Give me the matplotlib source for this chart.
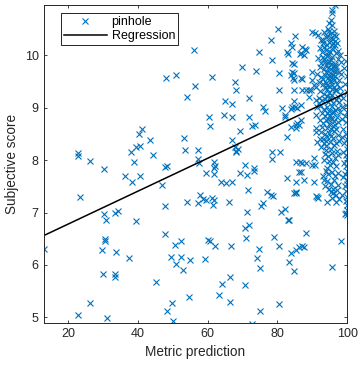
import matplotlib
matplotlib.use("Agg")
import matplotlib.pyplot as plt

plt.rcParams['font.family'] = ['Liberation Sans', 'DejaVu Sans']

# scatter points: metric prediction vs subjective score
pts_left = [
    (13.0, 6.31), (22.9, 8.13), (22.9, 8.07), (26.2, 7.98), (30.3, 7.84), (37.9, 8.15),
    (38.9, 7.96), (39.5, 8.25), (40.5, 8.27), (40.2, 8.50), (41.1, 8.59), (43.5, 8.39),
    (44.3, 8.10), (48.1, 9.56), (51.0, 9.62), (47.9, 7.86), (48.2, 7.89),
    (23.3, 7.30), (30.3, 6.97), (31.0, 6.86), (33.3, 6.99), (34.3, 7.03), (36.3, 7.69),
    (38.3, 7.58), (40.5, 7.70), (39.5, 6.84), (47.0, 7.53), (47.9, 7.12),
    (30.6, 6.50), (30.7, 6.46), (29.7, 6.29), (33.6, 6.25), (37.4, 6.13), (47.7, 6.59),
    (49.4, 6.16), (30.0, 5.83), (33.4, 5.83), (33.5, 5.78), (45.3, 5.68), (26.2, 5.28),
    (22.9, 5.05), (31.1, 4.99), (48.3, 5.13), (49.7, 5.28), (50.2, 4.93), (50.5, 6.39),
    (51.0, 6.02),
]
pts_mid = [
    (56.2, 10.11), (61.1, 9.59), (56.4, 9.42), (54.0, 9.21), (67.9, 9.50), (68.1, 9.34),
    (69.8, 9.78), (71.7, 9.19), (73.8, 9.70), (74.8, 10.07), (78.1, 10.29), (78.3, 9.92),
    (80.2, 10.51), (80.3, 9.67), (80.3, 9.34), (75.9, 9.02), (76.5, 8.94), (81.4, 8.99),
    (82.1, 8.83), (65.0, 9.13), (66.9, 9.07), (64.6, 8.86), (67.1, 8.82), (60.3, 8.82),
    (60.8, 8.65), (71.7, 8.82), (72.7, 8.65), (73.6, 8.67), (69.3, 8.56), (67.1, 8.39),
    (53.3, 8.43), (53.6, 8.20), (57.3, 8.20), (67.9, 8.26), (68.2, 8.18), (68.6, 8.21),
    (68.0, 8.15), (78.3, 8.16), (80.7, 8.16), (78.3, 8.02), (57.1, 8.02), (57.4, 7.94),
    (61.9, 7.96), (62.0, 7.88), (61.9, 7.85), (70.8, 7.90), (73.3, 7.85),
    (59.4, 7.75), (61.9, 7.74), (63.8, 7.59), (67.0, 7.59), (65.3, 7.57), (69.3, 7.75),
    (71.4, 7.72), (73.3, 7.80), (82.7, 8.44), (86.8, 7.77), (86.4, 7.96), (88.1, 7.94),
    (82.6, 7.66), (85.3, 7.59), (87.6, 7.62), (90.5, 7.59), (92.9, 7.69), (90.8, 7.90),
    (85.0, 10.37), (84.1, 10.16), (87.8, 10.13), (82.6, 10.07), (83.1, 10.02), (84.6, 9.83),
    (86.5, 10.02), (84.6, 9.66), (84.6, 9.53), (86.7, 9.57), (86.9, 9.55), (84.6, 9.34),
    (86.9, 9.34), (88.9, 9.34), (84.6, 9.12), (84.3, 9.02), (85.0, 9.02), (85.6, 8.99),
    (86.7, 9.05), (82.2, 8.86), (86.8, 8.77), (86.3, 8.67), (85.2, 8.62),
    (91.0, 8.86), (91.0, 8.62), (91.0, 8.54), (91.2, 8.35), (92.4, 8.26), (93.3, 8.32),
    (93.8, 8.20), (92.9, 8.40), (94.3, 8.44),
]
pts_low = [
    (54.0, 7.20), (57.1, 7.18), (57.8, 7.34), (58.6, 7.26), (59.5, 7.24), (61.4, 7.15),
    (61.7, 7.24), (61.2, 7.28), (66.0, 7.20), (71.6, 7.43), (71.4, 7.01), (70.8, 6.70),
    (71.9, 6.77), (71.1, 6.51), (75.3, 7.12), (75.9, 7.18), (77.0, 7.40), (78.1, 7.34),
    (78.8, 7.32), (81.0, 7.02), (82.1, 7.07), (83.1, 6.86), (79.0, 6.53), (80.3, 6.37),
    (74.6, 6.30), (74.0, 6.13), (75.0, 5.94), (60.0, 6.48), (60.7, 6.45), (62.2, 6.37),
    (66.7, 6.37), (59.1, 6.11), (52.4, 6.45), (52.4, 6.16), (54.8, 6.10), (52.9, 5.91),
    (66.5, 5.77), (64.0, 5.64), (70.8, 5.61), (54.6, 5.38), (63.1, 5.42), (66.4, 5.30),
    (72.6, 4.88), (80.3, 5.26), (75.0, 5.12), (84.8, 7.38), (85.3, 7.39),
    (83.4, 6.86), (88.3, 6.61), (83.8, 6.23), (85.2, 6.29), (86.2, 6.35), (87.1, 6.37),
    (87.6, 6.34), (98.1, 6.45), (95.5, 5.96), (83.3, 6.06), (84.6, 5.89), (99.5, 7.00),
    (100.0, 6.95), (99.8, 7.04), (99.3, 6.97),
    (91.3, 7.29), (91.7, 7.28), (94.3, 7.21), (95.3, 7.40), (96.0, 7.45), (96.7, 7.34),
    (96.7, 7.21), (98.6, 7.34), (99.3, 7.50),
    (85.2, 7.96), (87.1, 7.94), (86.2, 7.78), (93.3, 7.62), (85.2, 7.37), (90.9, 7.31),
    (90.5, 8.04), (90.0, 7.90), (83.8, 8.64), (85.2, 8.67), (85.6, 8.70),
]
pts_right = [
    (89.8, 9.69), (90.0, 9.53), (90.5, 9.43), (89.1, 9.21), (91.0, 9.15), (91.9, 9.09),
    (91.4, 9.02), (83.8, 10.23), (90.0, 10.45), (90.8, 10.42), (91.7, 10.39), (92.4, 10.30),
    (92.9, 10.24), (93.8, 10.35), (93.3, 10.16), (87.1, 10.16), (86.7, 10.04), (87.6, 10.01),
    (88.1, 10.10), (96.4, 10.96), (95.7, 10.86), (95.5, 10.80), (95.2, 10.67), (94.7, 10.62),
    (95.5, 10.58), (94.6, 10.51), (84.1, 9.85), (84.2, 9.69), (83.9, 9.62), (84.4, 9.57),
    (88.1, 9.34), (89.5, 9.34), (83.8, 8.97),
]
pts_dense = [
    # upper band
    (93.4, 10.44), (94.3, 10.37), (95.1, 10.41), (96.0, 10.31), (94.7, 10.26), (95.5, 10.20),
    (96.5, 10.19), (93.8, 10.11), (95.1, 10.06), (96.8, 10.04), (94.4, 10.01), (97.1, 10.24),
    (96.2, 10.47), (92.7, 10.06), (93.0, 10.30), (95.8, 10.13), (97.4, 10.09), (94.1, 10.19),
    (96.3, 10.38), (95.3, 10.33), (96.9, 10.36), (92.3, 10.14), (97.8, 10.00), (96.6, 10.27),
    (94.8, 10.09), (95.9, 10.24), (94.9, 10.47),
    # core, mostly x 93-97.5
    (91.7, 9.94), (92.6, 9.86), (93.4, 9.93), (94.2, 9.98), (94.8, 9.89), (95.7, 9.96),
    (96.4, 9.84), (97.2, 9.93), (98.1, 9.87), (92.2, 9.77), (93.3, 9.73), (93.9, 9.81),
    (94.6, 9.76), (95.2, 9.84), (96.1, 9.71), (96.9, 9.77), (97.7, 9.69), (91.4, 9.64),
    (92.5, 9.59), (93.6, 9.62), (94.4, 9.57), (95.0, 9.67), (95.8, 9.56), (96.6, 9.60),
    (97.5, 9.53), (98.2, 9.65), (92.0, 9.49), (92.9, 9.46), (93.8, 9.47), (94.7, 9.41),
    (95.3, 9.51), (96.2, 9.39), (97.1, 9.46), (97.9, 9.37), (91.1, 9.39), (92.3, 9.32),
    (93.2, 9.27), (94.1, 9.36), (94.9, 9.29), (95.6, 9.24), (96.4, 9.33), (97.3, 9.21),
    (98.0, 9.27), (91.8, 9.19), (92.7, 9.14), (93.7, 9.17), (94.5, 9.11), (95.1, 9.17),
    (95.9, 9.09), (96.8, 9.15), (97.6, 9.11), (94.0, 9.69), (95.5, 9.44), (93.1, 9.54),
    (96.4, 9.79), (94.9, 9.53), (92.9, 9.97), (95.4, 9.73), (96.9, 9.34), (93.7, 9.87),
    (94.3, 9.23), (96.0, 9.63), (95.2, 9.92), (94.6, 9.85), (95.8, 9.79), (96.2, 9.52),
    (94.9, 9.61), (95.6, 9.35), (94.2, 9.44), (96.7, 9.70), (93.5, 9.38), (95.0, 9.20),
    # below the line
    (92.3, 9.04), (93.2, 8.97), (94.1, 9.01), (94.8, 8.94), (95.7, 9.03), (96.5, 8.96),
    (97.4, 9.00), (92.7, 8.89), (93.6, 8.84), (94.3, 8.89), (95.2, 8.81), (96.1, 8.91),
    (97.0, 8.83), (97.8, 8.91), (92.1, 8.77), (93.1, 8.71), (93.8, 8.76), (94.9, 8.69),
    (95.6, 8.78), (96.4, 8.67), (97.3, 8.72), (92.8, 8.63), (94.3, 8.61), (95.2, 8.59),
    (95.9, 8.66), (96.9, 8.60), (95.5, 8.92), (94.5, 8.79), (95.0, 8.86), (96.2, 8.74),
    (92.6, 8.54), (93.5, 8.49), (94.7, 8.51), (95.4, 8.46), (96.3, 8.56), (97.2, 8.48),
    (92.2, 8.41), (93.9, 8.37), (95.1, 8.34), (95.8, 8.42), (96.7, 8.32), (97.6, 8.37),
    (94.0, 8.27), (95.2, 8.21), (96.1, 8.28), (97.0, 8.17), (93.7, 8.11), (94.6, 8.07),
    (95.5, 8.14), (96.4, 8.04), (97.4, 8.09), (94.8, 7.99), (95.9, 7.96), (93.3, 8.01),
    (95.1, 7.91), (96.7, 7.89), (94.3, 7.85),
    # right edge
    (99.6, 9.90), (99.2, 9.75), (99.8, 9.60), (99.4, 9.45), (99.9, 9.30), (98.8, 9.18),
    (99.5, 9.05), (100.0, 8.92), (99.3, 8.85), (99.7, 8.72), (98.9, 8.60), (99.6, 8.50),
    (100.0, 8.40), (99.2, 8.33), (99.8, 8.22), (98.7, 8.15), (99.5, 8.10), (99.9, 8.02),
    (99.1, 7.95), (99.7, 7.88), (100.0, 7.80), (99.4, 7.73), (98.9, 7.68), (99.8, 7.62),
    (100.0, 7.55), (99.5, 7.42), (100.0, 7.30), (99.7, 7.22), (99.9, 7.15), (98.5, 8.78),
    (98.6, 8.45), (98.4, 9.02),
    # lower tail
    (93.8, 7.80), (94.6, 7.74), (95.7, 7.78), (96.6, 7.70), (97.4, 7.75), (94.2, 7.60),
    (95.3, 7.55), (96.3, 7.62), (97.2, 7.52), (94.9, 7.45), (96.0, 7.38), (97.0, 7.44),
    (95.6, 7.28), (97.6, 7.25), (93.5, 7.50),
]

# regression line
reg_slope = 0.0314
reg_intercept = 6.152
reg_x = [13, 100]

pts = pts_left + pts_mid + pts_low + pts_right + pts_dense
xs = [p[0] for p in pts]
ys = [p[1] for p in pts]

fig = plt.figure(figsize=(3.61, 3.70), dpi=100)
ax = fig.add_axes([0.121, 0.128, 0.841, 0.8585])

ax.plot(xs, ys, 'x', color='#0072BD', markersize=5, markeredgewidth=0.8, label='pinhole')
ax.plot(reg_x, [reg_slope * x + reg_intercept for x in reg_x], color='black',
        linewidth=1.1, label='Regression')

ax.set_xlim(13, 100)
ax.set_ylim(4.9, 10.96)
ax.set_xticks([20, 40, 60, 80, 100])
ax.set_yticks([5, 6, 7, 8, 9, 10])
ax.tick_params(direction='in', length=2.5, width=0.6, top=True, right=True,
               labelsize=9, colors='#262626')
for s in ax.spines.values():
    s.set_linewidth(0.7)
    s.set_color('#262626')

ax.set_xlabel('Metric prediction', fontsize=9.8, color='#262626')
ax.set_ylabel('Subjective score', fontsize=9.8, color='#262626')

leg = ax.legend(loc='upper left', bbox_to_anchor=(0.057, 0.974), borderaxespad=0,
                fontsize=9, numpoints=1, handlelength=3.4, fancybox=False,
                framealpha=1, borderpad=0.25, labelspacing=0.15, handletextpad=0.4)
leg.get_frame().set_edgecolor('black')
leg.get_frame().set_linewidth(0.6)

fig.savefig('out.png', dpi=100)
